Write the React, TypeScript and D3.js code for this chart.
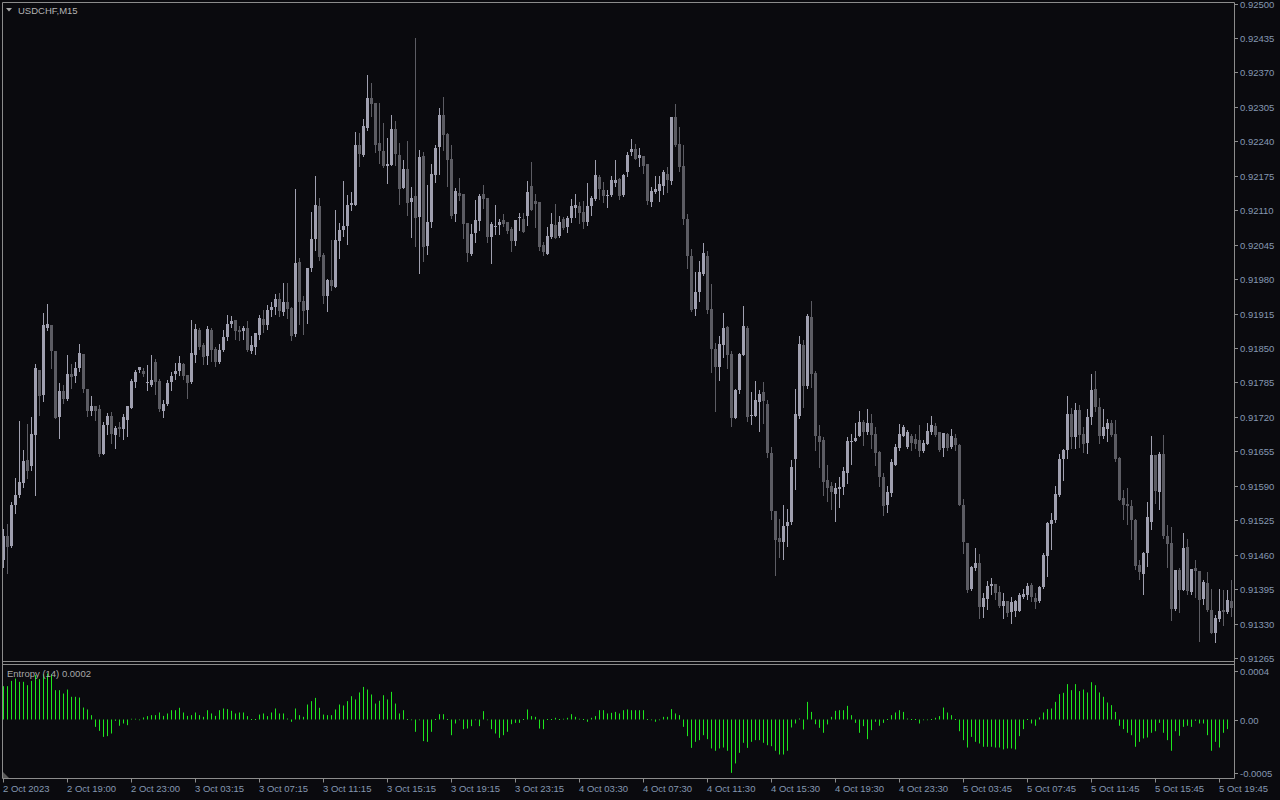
import React from "react";
import * as d3 from "d3";

// ---------- DATA (USDCHF M15) ----------
const openP = [
0.91450,0.91496,0.91477,0.91553,0.91573,0.91595,0.91639,0.91627,0.91686,0.91809,
0.91761,0.91888,0.91893,0.91844,0.91720,0.91768,0.91753,0.91800,0.91798,0.91813,
0.91838,0.91772,0.91731,0.91741,0.91734,0.91649,0.91704,0.91721,0.91686,0.91701,
0.91697,0.91715,0.91737,0.91785,0.91808,0.91806,0.91784,0.91781,0.91823,0.91787,
0.91732,0.91744,0.91786,0.91801,0.91806,0.91819,0.91799,0.91785,0.91837,0.91884,
0.91856,0.91835,0.91884,0.91849,0.91823,0.91846,0.91870,0.91895,0.91902,0.91884,
0.91882,0.91887,0.91845,0.91852,0.91875,0.91904,0.91893,0.91921,0.91928,0.91942,
0.91918,0.91937,0.91926,0.91876,0.92012,0.91938,0.91922,0.92001,0.92056,0.92118,
0.92025,0.91948,0.91979,0.91965,0.92052,0.92072,0.92081,0.92119,0.92120,0.92233,
0.92214,0.92266,0.92321,0.92312,0.92236,0.92222,0.92193,0.92195,0.92263,0.92214,
0.92152,0.92187,0.92126,0.92136,0.92097,0.92212,0.92042,0.92087,0.92177,0.92230,
0.92289,0.92253,0.92206,0.92102,0.92143,0.92140,0.92086,0.92027,0.92067,0.92090,
0.92140,0.92133,0.92060,0.92078,0.92082,0.92091,0.92087,0.92075,0.92052,0.92095,
0.92093,0.92099,0.92155,0.92127,0.92125,0.92044,0.92027,0.92060,0.92082,0.92062,
0.92093,0.92078,0.92095,0.92114,0.92117,0.92106,0.92087,0.92117,0.92131,0.92173,
0.92148,0.92136,0.92138,0.92162,0.92168,0.92138,0.92182,0.92220,0.92225,0.92208,
0.92212,0.92197,0.92125,0.92144,0.92146,0.92156,0.92178,0.92165,0.92286,0.92235,
0.92193,0.92093,0.92023,0.91923,0.91955,0.91989,0.92023,0.91923,0.91848,0.91814,
0.91855,0.91889,0.91838,0.91718,0.91770,0.91836,0.91888,0.91722,0.91722,0.91748,
0.91766,0.91744,0.91652,0.91542,0.91491,0.91483,0.91515,0.91522,0.91640,0.91721,
0.91855,0.91779,0.91908,0.91802,0.91683,0.91676,0.91600,0.91589,0.91574,0.91583,
0.91587,0.91615,0.91672,0.91674,0.91683,0.91710,0.91691,0.91708,0.91688,0.91653,
0.91606,0.91553,0.91577,0.91630,0.91662,0.91683,0.91664,0.91683,0.91679,0.91677,
0.91655,0.91668,0.91691,0.91702,0.91691,0.91661,0.91687,0.91663,0.91681,0.91666,
0.91553,0.91482,0.91395,0.91435,0.91445,0.91361,0.91377,0.91400,0.91404,0.91390,
0.91363,0.91373,0.91351,0.91353,0.91353,0.91381,0.91383,0.91402,0.91379,0.91372,
0.91399,0.91457,0.91518,0.91526,0.91572,0.91640,0.91657,0.91725,0.91682,0.91733,
0.91687,0.91670,0.91719,0.91772,0.91738,0.91683,0.91697,0.91708,0.91687,0.91642,
0.91566,0.91556,0.91551,0.91525,0.91440,0.91423,0.91463,0.91522,0.91648,0.91579,
0.91650,0.91495,0.91482,0.91357,0.91431,0.91393,0.91474,0.91389,0.91434,0.91430,
0.91376,0.91406,0.91355,0.91312,0.91338,0.91355,0.91351,0.91372];

const highP = [
0.91509,0.91518,0.91559,0.91605,0.91713,0.91657,0.91707,0.91720,0.91819,0.91809,
0.91916,0.91933,0.91893,0.91844,0.91784,0.91781,0.91836,0.91819,0.91824,0.91857,
0.91838,0.91772,0.91759,0.91741,0.91742,0.91710,0.91727,0.91729,0.91702,0.91710,
0.91725,0.91740,0.91792,0.91809,0.91815,0.91813,0.91817,0.91836,0.91830,0.91792,
0.91751,0.91789,0.91805,0.91822,0.91834,0.91822,0.91799,0.91902,0.91896,0.91887,
0.91860,0.91891,0.91887,0.91852,0.91857,0.91884,0.91912,0.91911,0.91902,0.91892,
0.91892,0.91901,0.91872,0.91878,0.91912,0.91921,0.91932,0.91937,0.91952,0.91953,
0.91972,0.91972,0.91928,0.92150,0.92020,0.91948,0.92001,0.92107,0.92175,0.92133,
0.92030,0.91981,0.92054,0.92110,0.92085,0.92165,0.92138,0.92144,0.92258,0.92256,
0.92282,0.92365,0.92350,0.92312,0.92313,0.92275,0.92247,0.92289,0.92278,0.92236,
0.92204,0.92240,0.92154,0.92434,0.92223,0.92220,0.92158,0.92197,0.92233,0.92302,
0.92323,0.92255,0.92233,0.92152,0.92170,0.92140,0.92086,0.92083,0.92129,0.92141,
0.92157,0.92133,0.92088,0.92119,0.92094,0.92102,0.92088,0.92078,0.92092,0.92104,
0.92105,0.92165,0.92201,0.92140,0.92125,0.92050,0.92078,0.92105,0.92121,0.92099,
0.92097,0.92099,0.92131,0.92140,0.92126,0.92128,0.92162,0.92136,0.92204,0.92176,
0.92163,0.92149,0.92174,0.92204,0.92171,0.92179,0.92220,0.92244,0.92235,0.92227,
0.92212,0.92197,0.92153,0.92174,0.92174,0.92186,0.92191,0.92286,0.92311,0.92267,
0.92233,0.92103,0.92036,0.91994,0.92014,0.92048,0.92033,0.91970,0.91860,0.91872,
0.91916,0.91891,0.91844,0.91773,0.91841,0.91929,0.91891,0.91767,0.91787,0.91770,
0.91785,0.91751,0.91663,0.91542,0.91528,0.91553,0.91547,0.91638,0.91772,0.91872,
0.91865,0.91914,0.91938,0.91806,0.91704,0.91682,0.91630,0.91597,0.91595,0.91606,
0.91625,0.91682,0.91687,0.91708,0.91732,0.91715,0.91734,0.91726,0.91701,0.91655,
0.91614,0.91589,0.91641,0.91668,0.91706,0.91704,0.91696,0.91687,0.91687,0.91704,
0.91676,0.91709,0.91721,0.91709,0.91691,0.91689,0.91689,0.91698,0.91687,0.91668,
0.91565,0.91482,0.91438,0.91473,0.91462,0.91387,0.91410,0.91416,0.91404,0.91400,
0.91388,0.91373,0.91381,0.91375,0.91387,0.91395,0.91406,0.91407,0.91387,0.91400,
0.91464,0.91522,0.91539,0.91589,0.91649,0.91660,0.91759,0.91736,0.91746,0.91742,
0.91701,0.91734,0.91801,0.91806,0.91755,0.91734,0.91716,0.91714,0.91715,0.91644,
0.91582,0.91585,0.91564,0.91528,0.91449,0.91465,0.91559,0.91684,0.91648,0.91654,
0.91686,0.91516,0.91512,0.91431,0.91435,0.91500,0.91490,0.91432,0.91449,0.91430,
0.91413,0.91427,0.91396,0.91346,0.91396,0.91393,0.91393,0.91413];

const lowP = [
0.91437,0.91425,0.91474,0.91538,0.91568,0.91587,0.91604,0.91619,0.91573,0.91723,
0.91750,0.91883,0.91812,0.91718,0.91680,0.91746,0.91751,0.91775,0.91786,0.91807,
0.91766,0.91721,0.91723,0.91715,0.91646,0.91649,0.91687,0.91671,0.91661,0.91684,
0.91678,0.91684,0.91737,0.91776,0.91805,0.91798,0.91771,0.91778,0.91763,0.91731,
0.91720,0.91742,0.91770,0.91792,0.91799,0.91792,0.91755,0.91783,0.91824,0.91849,
0.91819,0.91819,0.91826,0.91816,0.91822,0.91845,0.91865,0.91890,0.91867,0.91865,
0.91867,0.91845,0.91841,0.91838,0.91867,0.91880,0.91885,0.91910,0.91914,0.91910,
0.91912,0.91907,0.91865,0.91872,0.91896,0.91876,0.91897,0.91995,0.92035,0.92016,
0.91935,0.91920,0.91959,0.91965,0.92020,0.92061,0.92047,0.92110,0.92120,0.92194,
0.92212,0.92262,0.92287,0.92220,0.92199,0.92192,0.92161,0.92195,0.92196,0.92121,
0.92152,0.92100,0.92059,0.92042,0.91991,0.92015,0.92028,0.92078,0.92163,0.92178,
0.92223,0.92155,0.92095,0.92089,0.92129,0.92058,0.92015,0.92025,0.92050,0.92072,
0.92115,0.92050,0.92010,0.92065,0.92066,0.92080,0.92067,0.92033,0.92044,0.92072,
0.92068,0.92082,0.92110,0.92078,0.92034,0.92025,0.92027,0.92058,0.92058,0.92060,
0.92075,0.92069,0.92088,0.92097,0.92085,0.92077,0.92082,0.92100,0.92129,0.92132,
0.92126,0.92116,0.92136,0.92155,0.92132,0.92136,0.92174,0.92214,0.92207,0.92193,
0.92180,0.92122,0.92117,0.92143,0.92128,0.92140,0.92145,0.92159,0.92231,0.92184,
0.92084,0.92001,0.91919,0.91912,0.91939,0.91987,0.91916,0.91805,0.91731,0.91789,
0.91833,0.91812,0.91703,0.91718,0.91765,0.91836,0.91712,0.91707,0.91721,0.91694,
0.91708,0.91645,0.91528,0.91422,0.91455,0.91451,0.91477,0.91518,0.91583,0.91718,
0.91739,0.91775,0.91776,0.91657,0.91625,0.91572,0.91562,0.91546,0.91524,0.91549,
0.91574,0.91596,0.91631,0.91674,0.91683,0.91666,0.91688,0.91661,0.91630,0.91589,
0.91534,0.91540,0.91570,0.91630,0.91657,0.91683,0.91661,0.91657,0.91662,0.91646,
0.91653,0.91668,0.91687,0.91683,0.91655,0.91646,0.91657,0.91661,0.91657,0.91553,
0.91464,0.91389,0.91394,0.91431,0.91341,0.91342,0.91358,0.91386,0.91377,0.91362,
0.91341,0.91345,0.91331,0.91345,0.91353,0.91379,0.91377,0.91373,0.91359,0.91370,
0.91397,0.91419,0.91470,0.91521,0.91570,0.91600,0.91643,0.91662,0.91662,0.91663,
0.91653,0.91651,0.91707,0.91731,0.91671,0.91681,0.91675,0.91683,0.91637,0.91564,
0.91528,0.91517,0.91490,0.91432,0.91415,0.91386,0.91439,0.91509,0.91557,0.91547,
0.91492,0.91437,0.91337,0.91355,0.91352,0.91393,0.91385,0.91386,0.91380,0.91298,
0.91366,0.91354,0.91313,0.91295,0.91334,0.91327,0.91349,0.91344];

const closeP = [
0.91496,0.91475,0.91553,0.91573,0.91598,0.91636,0.91617,0.91687,0.91813,0.91759,
0.91893,0.91896,0.91844,0.91718,0.91768,0.91754,0.91800,0.91795,0.91813,0.91840,
0.91772,0.91731,0.91740,0.91732,0.91649,0.91704,0.91721,0.91687,0.91699,0.91697,
0.91719,0.91740,0.91787,0.91804,0.91814,0.91801,0.91785,0.91790,0.91785,0.91734,
0.91744,0.91783,0.91797,0.91806,0.91822,0.91797,0.91783,0.91840,0.91885,0.91851,
0.91833,0.91885,0.91846,0.91824,0.91846,0.91870,0.91895,0.91901,0.91882,0.91880,
0.91887,0.91846,0.91855,0.91878,0.91906,0.91893,0.91921,0.91928,0.91942,0.91920,
0.91937,0.91923,0.91873,0.92010,0.91937,0.91920,0.92001,0.92056,0.92120,0.92022,
0.91948,0.91978,0.91966,0.92053,0.92072,0.92081,0.92119,0.92124,0.92233,0.92216,
0.92269,0.92321,0.92310,0.92233,0.92222,0.92193,0.92197,0.92263,0.92216,0.92150,
0.92187,0.92124,0.92133,0.92095,0.92211,0.92041,0.92087,0.92179,0.92227,0.92289,
0.92252,0.92204,0.92099,0.92146,0.92137,0.92083,0.92029,0.92065,0.92091,0.92136,
0.92132,0.92060,0.92083,0.92081,0.92087,0.92083,0.92070,0.92052,0.92091,0.92098,
0.92068,0.92144,0.92111,0.92121,0.92041,0.92031,0.92061,0.92083,0.92058,0.92087,
0.92077,0.92095,0.92117,0.92119,0.92104,0.92088,0.92117,0.92133,0.92176,0.92150,
0.92136,0.92138,0.92167,0.92167,0.92136,0.92176,0.92214,0.92225,0.92207,0.92214,
0.92193,0.92127,0.92146,0.92150,0.92159,0.92182,0.92167,0.92286,0.92233,0.92191,
0.92093,0.92023,0.91921,0.91955,0.91993,0.92029,0.91921,0.91848,0.91815,0.91857,
0.91888,0.91836,0.91718,0.91770,0.91838,0.91891,0.91720,0.91723,0.91751,0.91764,
0.91749,0.91652,0.91543,0.91487,0.91483,0.91515,0.91522,0.91626,0.91725,0.91857,
0.91779,0.91910,0.91800,0.91683,0.91672,0.91598,0.91585,0.91578,0.91585,0.91587,
0.91617,0.91674,0.91674,0.91681,0.91710,0.91691,0.91708,0.91686,0.91651,0.91606,
0.91551,0.91579,0.91634,0.91664,0.91687,0.91700,0.91691,0.91670,0.91669,0.91655,
0.91670,0.91693,0.91704,0.91685,0.91657,0.91689,0.91661,0.91683,0.91666,0.91553,
0.91483,0.91394,0.91436,0.91445,0.91361,0.91378,0.91400,0.91404,0.91387,0.91363,
0.91373,0.91349,0.91370,0.91372,0.91383,0.91385,0.91400,0.91380,0.91370,0.91399,
0.91459,0.91520,0.91526,0.91574,0.91640,0.91657,0.91725,0.91682,0.91733,0.91685,
0.91668,0.91719,0.91770,0.91738,0.91683,0.91701,0.91708,0.91685,0.91641,0.91564,
0.91553,0.91551,0.91525,0.91438,0.91427,0.91463,0.91531,0.91648,0.91580,0.91650,
0.91495,0.91480,0.91357,0.91431,0.91393,0.91472,0.91391,0.91432,0.91430,0.91374,
0.91408,0.91355,0.91313,0.91340,0.91353,0.91351,0.91374,0.91359];

const entropy: (number | null)[] = [
0.000276,0.000276,0.000320,0.000339,0.000312,0.000312,0.000284,0.000320,0.000367,0.000334,
0.000375,0.000381,0.000375,0.000243,0.000243,0.000215,0.000248,0.000188,0.000188,0.000182,
0.000099,0.000083,0.000036,-0.000061,-0.000094,-0.000144,-0.000138,-0.000116,-0.000011,-0.000052,
-0.000033,-0.000047,0.000006,0.000006,-0.000006,0.000017,0.000028,0.000036,0.000036,0.000058,
0.000030,0.000050,0.000077,0.000077,0.000097,0.000058,0.000030,0.000036,0.000058,0.000036,
0.000022,0.000077,0.000050,0.000030,0.000077,0.000091,0.000086,0.000072,0.000050,0.000058,
0.000058,0.000028,0.000003,0.000003,0.000041,0.000050,0.000028,0.000058,0.000091,0.000050,
0.000050,0.000008,-0.000019,0.000091,0.000036,0.000022,0.000124,0.000152,0.000179,0.000097,
0.000041,0.000036,0.000036,0.000083,0.000124,0.000116,0.000152,0.000193,0.000166,0.000224,
0.000270,0.000248,0.000207,0.000132,0.000155,0.000201,0.000166,0.000229,0.000132,0.000050,
0.000077,0.000000,-0.000006,-0.000102,-0.000006,-0.000179,-0.000185,-0.000102,0.000003,0.000044,
0.000044,0.000003,-0.000130,-0.000033,-0.000006,-0.000080,-0.000075,-0.000055,-0.000006,-0.000055,
0.000069,-0.000006,-0.000080,-0.000116,-0.000152,-0.000130,-0.000102,-0.000039,-0.000028,-0.000028,
0.000000,0.000083,0.000028,0.000022,-0.000075,-0.000080,0.000000,0.000000,0.000014,0.000000,
0.000006,0.000014,0.000044,0.000022,0.000006,0.000000,-0.000019,0.000014,0.000028,0.000077,
0.000077,0.000050,0.000055,0.000063,0.000050,0.000077,0.000083,0.000077,0.000077,0.000077,
0.000077,0.000003,-0.000006,-0.000019,-0.000006,0.000022,0.000022,0.000086,0.000050,0.000036,
-0.000061,-0.000138,-0.000235,-0.000185,-0.000171,-0.000130,-0.000163,-0.000240,-0.000259,-0.000240,
-0.000232,-0.000259,-0.000442,-0.000364,-0.000276,-0.000193,-0.000235,-0.000185,-0.000171,-0.000171,
-0.000193,-0.000213,-0.000221,-0.000259,-0.000290,-0.000290,-0.000259,-0.000066,-0.000033,0.000008,
-0.000083,0.000146,0.000063,-0.000039,-0.000069,-0.000110,-0.000041,0.000022,0.000072,0.000077,
0.000077,0.000113,0.000036,-0.000028,-0.000110,-0.000055,-0.000163,-0.000088,-0.000019,-0.000052,
-0.000028,0.000003,0.000036,0.000058,0.000077,0.000063,0.000008,0.000003,0.000003,-0.000033,
-0.000006,-0.000006,0.000003,0.000014,0.000028,0.000099,0.000058,0.000036,0.000000,-0.000097,
-0.000171,-0.000232,-0.000144,-0.000185,-0.000199,-0.000226,-0.000226,-0.000226,-0.000232,-0.000232,
-0.000248,-0.000240,-0.000240,-0.000248,-0.000138,-0.000080,0.000000,-0.000033,-0.000052,0.000017,
0.000058,0.000086,0.000091,0.000146,0.000210,0.000221,0.000293,0.000243,0.000293,0.000235,
0.000248,0.000224,0.000309,0.000284,0.000224,0.000188,0.000141,0.000119,0.000063,-0.000052,
-0.000080,-0.000110,-0.000130,-0.000226,-0.000185,-0.000157,-0.000149,-0.000110,-0.000097,-0.000028,
-0.000110,-0.000171,-0.000259,-0.000097,-0.000135,-0.000061,-0.000052,-0.000061,-0.000011,-0.000033,
-0.000033,-0.000130,-0.000259,-0.000185,-0.000232,-0.000110,-0.000080,null];

const priceTicks = [
0.92500,0.92435,0.92370,0.92305,0.92240,0.92175,0.92110,0.92045,0.91980,0.91915,
0.91850,0.91785,0.91720,0.91655,0.91590,0.91525,0.91460,0.91395,0.91330,0.91265];

const timeLabels = [
"2 Oct 2023","2 Oct 19:00","2 Oct 23:00","3 Oct 03:15","3 Oct 07:15","3 Oct 11:15",
"3 Oct 15:15","3 Oct 19:15","3 Oct 23:15","4 Oct 03:30","4 Oct 07:30","4 Oct 11:30",
"4 Oct 15:30","4 Oct 19:30","4 Oct 23:30","5 Oct 03:45","5 Oct 07:45","5 Oct 11:45",
"5 Oct 15:45","5 Oct 19:45"];
const timeLabelBars = [0,16,32,48,64,80,96,112,128,144,160,176,192,208,224,240,256,272,288,304];

const entropyTicks = [0.0004, 0, -0.0005];
const entropyTickLabels = ["0.0004", "0.00", "-0.0005"];

const symbolTitle = "USDCHF,M15";
const indicatorTitle = "Entropy (14) 0.0002";

// ---------- STYLE ----------
const BG = "#0a0a0e";
const FRAME = "#8c8c8c";
const AXIS_TXT = "#8598b2";
const BULL = "#a0a0b0";
const BEAR = "#5c5c63";
const HIST = "#1ee61e";
const FONT = "'Liberation Sans', Arial, sans-serif";

export default function App() {
  const W = 1280, H = 800;
  const axisX = 1234.5;
  const mainTop = 2.5, mainBottom = 661.5;
  const indTop = 664.5, indBottom = 778.5;

  const n = closeP.length;
  const x = d3.scaleLinear().domain([0, n - 1]).range([3.5, 3.5 + 4 * (n - 1)]);
  const y = d3.scaleLinear().domain([0.91265, 0.925]).range([658, 3.5]);
  const ye = d3.scaleLinear().domain([0, 0.0004]).range([719.5, 671.2]);

  const idx = d3.range(n);

  return (
    <div style={{ position: "fixed", left: 0, top: 0, width: W, height: H, background: BG }}>
      <svg width={W} height={H} style={{ display: "block", fontFamily: FONT }}>
        <defs>
          <clipPath id="mainClip">
            <rect x={3} y={3} width={axisX - 3.5} height={mainBottom - 3.5} />
          </clipPath>
          <clipPath id="indClip">
            <rect x={3} y={indTop + 0.5} width={axisX - 3.5} height={indBottom - indTop - 1} />
          </clipPath>
        </defs>
        <rect x={0} y={0} width={W} height={H} fill={BG} />

        {/* candles */}
        <g clipPath="url(#mainClip)">
          {idx.map((i) => {
            const o = openP[i], c = closeP[i], h = highP[i], l = lowP[i];
            const bull = c >= o;
            const col = bull ? BULL : BEAR;
            const cx = x(i);
            const yTop = Math.round(y(Math.max(o, c)));
            const yBot = Math.round(y(Math.min(o, c)));
            return (
              <g key={i}>
                <line x1={cx} x2={cx} y1={Math.round(y(h))} y2={Math.round(y(l)) + 1} stroke={col} strokeWidth={1} />
                <rect x={cx - 1.5} y={yTop} width={3} height={Math.max(1, yBot - yTop)} fill={col} />
              </g>
            );
          })}
        </g>

        {/* entropy histogram */}
        <g clipPath="url(#indClip)">
          {idx.map((i) => {
            const v = entropy[i];
            if (v === null || v === undefined) return null;
            const y0 = ye(0);
            const y1 = ye(v);
            if (Math.abs(y1 - y0) < 0.5) {
              return <line key={i} x1={x(i)} x2={x(i)} y1={y0 - 0.5} y2={y0 + 0.5} stroke={HIST} strokeWidth={1} />;
            }
            return <line key={i} x1={x(i)} x2={x(i)} y1={y0} y2={y1} stroke={HIST} strokeWidth={1} />;
          })}
        </g>

        {/* frames */}
        <line x1={2.5} x2={axisX} y1={mainTop} y2={mainTop} stroke={FRAME} />
        <line x1={2.5} x2={axisX} y1={mainBottom} y2={mainBottom} stroke={FRAME} />
        <line x1={2.5} x2={axisX} y1={indTop} y2={indTop} stroke={FRAME} />
        <line x1={2.5} x2={axisX} y1={indBottom} y2={indBottom} stroke={FRAME} />
        <line x1={2.5} x2={2.5} y1={mainTop} y2={indBottom} stroke={FRAME} />
        <line x1={axisX} x2={axisX} y1={mainTop} y2={indBottom} stroke={FRAME} />

        {/* header */}
        <path d="M6,8 L12,8 L9,11.5 Z" fill="#a8a8a8" />
        <text x={18} y={10} dominantBaseline="central" fontSize={9.5} fill="#b4b4b4">{symbolTitle}</text>

        {/* indicator title */}
        <text x={7} y={673} dominantBaseline="central" fontSize={9.5} fill="#a8a8a8">{indicatorTitle}</text>
        <path d="M3,778 L3,772 L9,778 Z" fill="#5a5a5a" />

        {/* price axis */}
        {priceTicks.map((p) => (
          <g key={p}>
            <line x1={axisX} x2={axisX + 3.5} y1={Math.round(y(p)) + 0.5} y2={Math.round(y(p)) + 0.5} stroke={FRAME} />
            <text x={1240} y={y(p) + 0.5} dominantBaseline="central" fontSize={9.5} fill={AXIS_TXT}>{p.toFixed(5)}</text>
          </g>
        ))}

        {/* entropy axis */}
        {entropyTicks.map((v, k) => {
          const yy = Math.min(ye(v), 773.3);
          return (
            <g key={k}>
              <line x1={axisX} x2={axisX + 3.5} y1={Math.round(yy) + 0.5} y2={Math.round(yy) + 0.5} stroke={FRAME} />
              <text x={1240} y={yy + 0.5} dominantBaseline="central" fontSize={9.5} fill={AXIS_TXT}>{entropyTickLabels[k]}</text>
            </g>
          );
        })}

        {/* time axis */}
        {timeLabelBars.map((b, k) => (
          <g key={b}>
            <line x1={x(b)} x2={x(b)} y1={indBottom} y2={indBottom + 4} stroke={FRAME} />
            <text x={x(b) - 0.5} y={792} fontSize={9.5} fill={AXIS_TXT}>{timeLabels[k]}</text>
          </g>
        ))}
      </svg>
    </div>
  );
}
